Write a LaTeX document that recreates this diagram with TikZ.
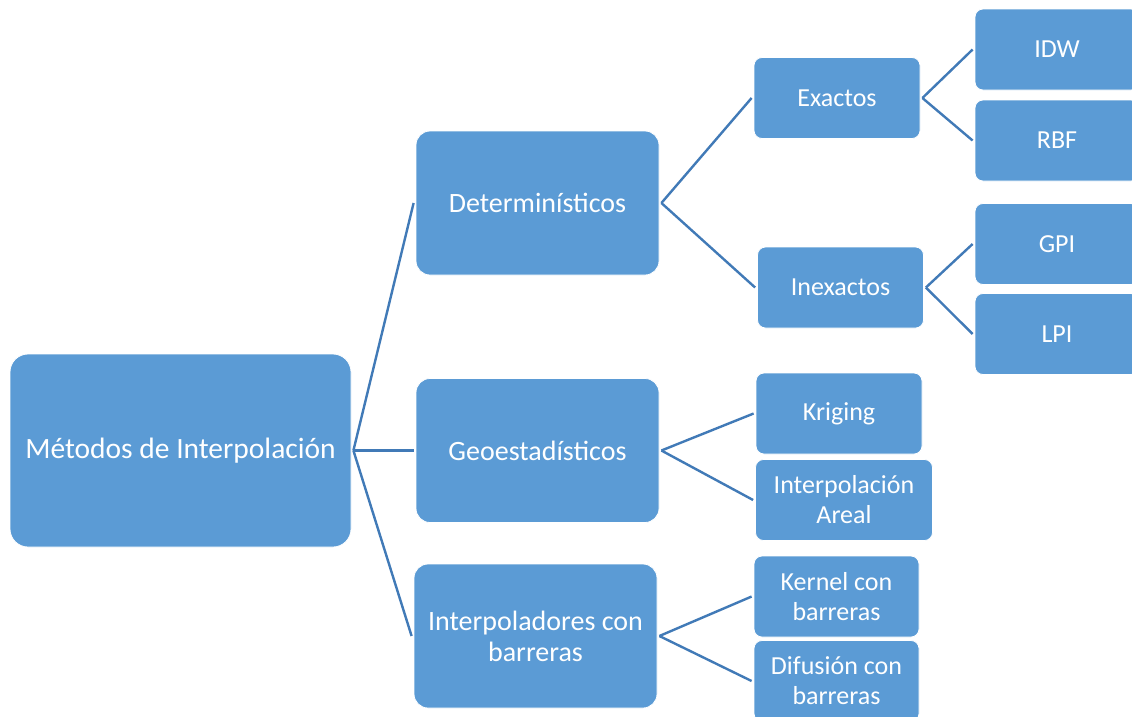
\documentclass[tikz,border=0pt]{standalone}
\usepackage{fontspec}
\setmainfont{Carlito}
\usepackage{tikz}
\definecolor{boxblue}{RGB}{91,155,213}
\definecolor{lineblue}{RGB}{65,122,183}

\begin{document}
\begin{tikzpicture}[x=1pt,y=-1pt,
  box/.style={fill=boxblue,draw=white,line width=0.8pt,text=white,align=center,inner sep=0pt},
  big/.style={box,minimum width=341pt,minimum height=193pt,rounded corners=18pt,font=\fontsize{29.5}{34}\selectfont},
  mid/.style={box,minimum width=243pt,minimum height=144pt,rounded corners=14pt,font=\fontsize{28}{31}\selectfont},
  small/.style={box,minimum width=166pt,minimum height=81pt,rounded corners=8pt,font=\fontsize{26}{30}\selectfont},
  link/.style={draw=lineblue,line width=2.4pt}]
  \useasboundingbox (0,0) rectangle (1132,716);
  \fill[white] (0,0) rectangle (1132,716);
  \clip (0,0) rectangle (1132,716);

  \node[big] (root) at (180.5,450.5) {Métodos de Interpolación};

  \node[mid] (det) at (537.5,203) {Determinísticos};
  \node[mid] (geo) at (537.5,450.5) {Geoestadísticos};
  \node[mid] (bar) at (535.5,636) {Interpoladores con\\barreras};

  \node[small] (exa) at (837,98) {Exactos};
  \node[small] (inexa) at (840.5,287.5) {Inexactos};
  \node[small] (kri) at (839,413.5) {Kriging};
  \node[small,minimum width=177pt] (are) at (844,500) {Interpolación\\Areal};
  \node[small,minimum width=165pt] (ker) at (836.5,596.5) {Kernel con\\barreras};
  \node[small,minimum width=165pt] (dif) at (836.5,681) {Difusión con\\barreras};

  \node[small,minimum width=164pt] (idw) at (1057,49.5) {IDW};
  \node[small,minimum width=164pt] (rbf) at (1057,140.5) {RBF};
  \node[small,minimum width=164pt] (gpi) at (1057,244) {GPI};
  \node[small,minimum width=164pt] (lpi) at (1057,334) {LPI};

  % links from the root
  \draw[link] ([xshift=2pt]root.east) -- ([xshift=-2pt]det.west);
  \draw[link] ([xshift=2pt]root.east) -- ([xshift=-2pt]geo.west);
  \draw[link] ([xshift=2pt]root.east) -- ([xshift=-2pt]bar.west);

  \draw[link] ([xshift=2pt]det.east) -- ([xshift=-2pt]exa.west);
  \draw[link] ([xshift=2pt]det.east) -- ([xshift=-2pt]inexa.west);
  \draw[link] ([xshift=2pt]geo.east) -- ([xshift=-2pt]kri.west);
  \draw[link] ([xshift=2pt]geo.east) -- ([xshift=-2pt]are.west);
  \draw[link] ([xshift=2pt]bar.east) -- ([xshift=-2pt]ker.west);
  \draw[link] ([xshift=2pt]bar.east) -- ([xshift=-2pt]dif.west);

  \draw[link] ([xshift=2pt]exa.east) -- ([xshift=-2pt]idw.west);
  \draw[link] ([xshift=2pt]exa.east) -- ([xshift=-2pt]rbf.west);
  \draw[link] ([xshift=2pt]inexa.east) -- ([xshift=-2pt]gpi.west);
  \draw[link] ([xshift=2pt]inexa.east) -- ([xshift=-2pt]lpi.west);
\end{tikzpicture}
\end{document}
